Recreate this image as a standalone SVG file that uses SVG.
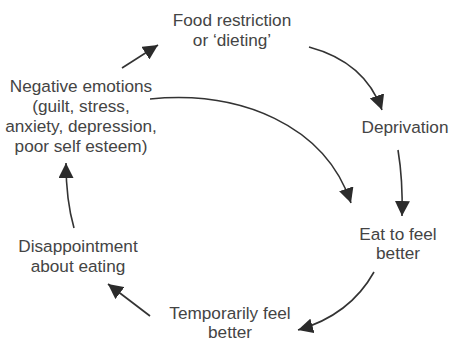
<svg xmlns="http://www.w3.org/2000/svg" width="464" height="346" viewBox="0 0 464 346">
<style>
text{font-family:"Liberation Sans",Arial,sans-serif;font-size:17.2px;fill:#444;text-anchor:middle}
.c{fill:none;stroke:#333;stroke-width:1.6;marker-end:url(#ah)}
</style>
<defs>
<marker id="ah" viewBox="0 0 10 10" refX="10" refY="5" markerUnits="userSpaceOnUse" markerWidth="15" markerHeight="15" orient="auto">
<path d="M0,0 L10,5 L0,10 z" fill="#2b2b2b"/>
</marker>
</defs>
<rect width="464" height="346" fill="#fff"/>
<g id="connectors">
<path class="c" d="M122,68 L158,45"/>
<path class="c" d="M309,47 Q365,62 382,110"/>
<path class="c" d="M398,150 Q403,180 402,216"/>
<path class="c" d="M150,99 C240,90 325,125 351,203"/>
<path class="c" d="M374,272 Q350,315 298,330"/>
<path class="c" d="M150,316 L108,284"/>
<path class="c" d="M74,228 Q66,200 66,163"/>
</g>
<g id="food"><text x="232" y="26">Food restriction</text><text x="232" y="46">or ‘dieting’</text></g>
<g id="deprivation"><text x="405" y="133">Deprivation</text></g>
<g id="eat"><text x="398" y="240">Eat to feel</text><text x="398" y="259">better</text></g>
<g id="temporarily"><text x="230" y="319">Temporarily feel</text><text x="230" y="338">better</text></g>
<g id="disappointment"><text x="78" y="252">Disappointment</text><text x="78" y="272">about eating</text></g>
<g id="negative"><text x="81" y="92">Negative emotions</text><text x="81" y="112">(guilt, stress,</text><text x="81" y="132">anxiety, depression,</text><text x="81" y="152">poor self esteem)</text></g>
</svg>
